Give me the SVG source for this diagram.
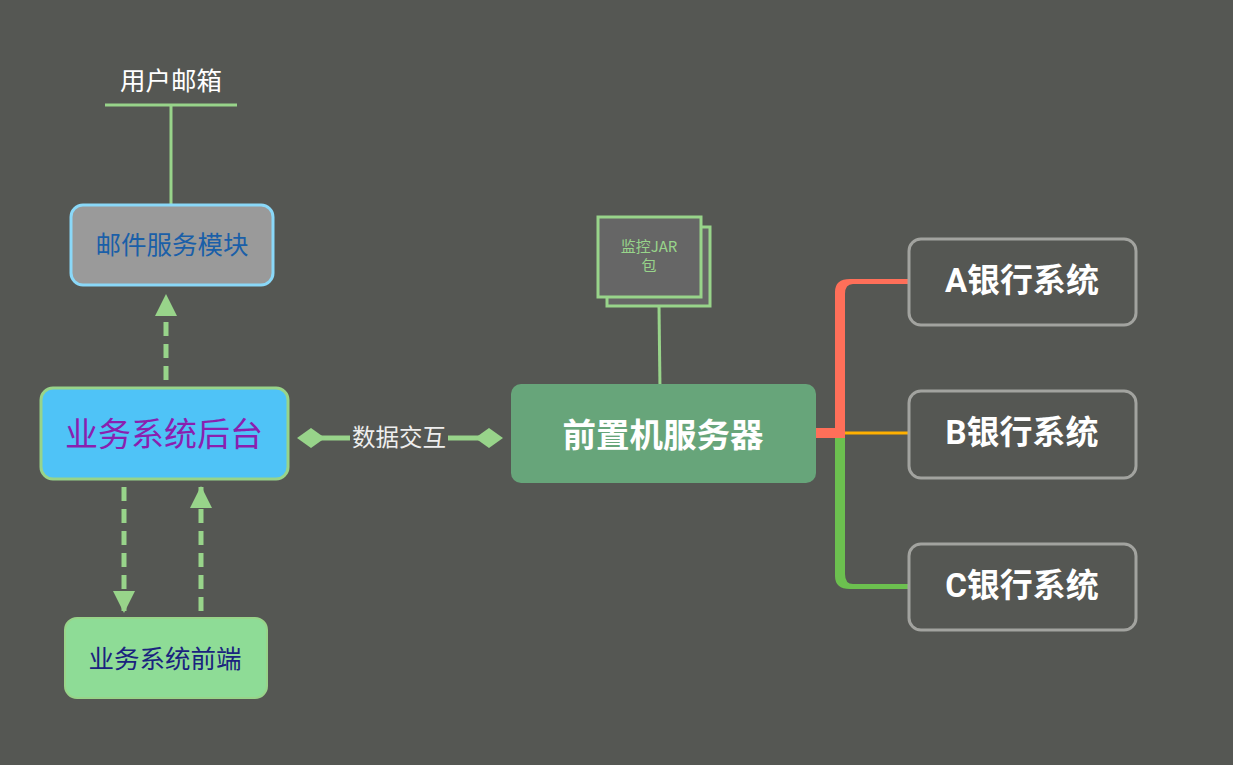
<svg xmlns="http://www.w3.org/2000/svg" width="1233" height="765" viewBox="0 0 1233 765">
<defs>
<style>
.t{font-family:"Noto Sans CJK SC","Noto Sans",sans-serif;text-anchor:middle;dominant-baseline:central}
.g{stroke:#98d48a;fill:none}
.bank rect{fill:none;stroke:#a2a39f;stroke-width:3}
.bank text{font-family:Roboto,"Noto Sans CJK SC",sans-serif;font-weight:bold;font-size:33px;fill:#ffffff;text-anchor:middle;dominant-baseline:central}
</style>
<marker id="ah" viewBox="0 0 10 10" refX="10" refY="5" markerWidth="4.4" markerHeight="4.4" orient="auto" markerUnits="strokeWidth">
<path d="M0,0 L10,5 L0,10 Z" fill="#98d48a"/>
</marker>
</defs>
<rect width="1233" height="765" fill="#555753"/>

<g id="connectors">
<line class="g" x1="105" y1="105" x2="237" y2="105" stroke-width="3"/>
<line class="g" x1="171" y1="105" x2="171" y2="205" stroke-width="3"/>
<line class="g" x1="166" y1="380" x2="166" y2="294" stroke-width="5" stroke-dasharray="14,8" marker-end="url(#ah)"/>
<line class="g" x1="124" y1="487" x2="124" y2="613" stroke-width="5" stroke-dasharray="14,8" marker-end="url(#ah)"/>
<line class="g" x1="201" y1="611" x2="201" y2="486" stroke-width="5" stroke-dasharray="14,8" marker-end="url(#ah)"/>
<line class="g" x1="311" y1="438" x2="350" y2="438" stroke-width="5"/>
<line class="g" x1="448" y1="438" x2="489" y2="438" stroke-width="5"/>
<path d="M297,438 L311,428 L325,438 L311,448 Z" fill="#98d48a"/>
<path d="M475,438 L489,428 L503,438 L489,448 Z" fill="#98d48a"/>
<text class="t" x="399" y="436" font-size="23.5" fill="#eeeeee">数据交互</text>
<line class="g" x1="659" y1="306" x2="660" y2="390" stroke-width="3"/>
<rect x="816" y="428" width="29" height="10" fill="#ff6f59"/>
<path d="M835,438 L835,292 Q835,279 850,279 L908,279 L908,284 L853,284 Q845,284 845,294 L845,438 Z" fill="#ff6f59"/>
<path d="M835,438 L835,576 Q835,589 850,589 L908,589 L908,584 L853,584 Q845,584 845,574 L845,438 Z" fill="#6cc04f"/>
<line x1="845" y1="433" x2="909" y2="433" stroke="#ffb000" stroke-width="3"/>
</g>

<g id="user-mailbox">
<text class="t" x="171" y="78" font-size="25.5" fill="#ffffff">用户邮箱</text>
</g>

<g id="mail-module">
<rect x="71" y="205" width="202" height="80" rx="12" fill="#9a9a9a" stroke="#8ad8f8" stroke-width="3"/>
<text class="t" x="172" y="242" font-size="25.5" fill="#1a5fa8">邮件服务模块</text>
</g>

<g id="backend">
<rect x="41" y="388" width="247" height="91" rx="12" fill="#4fc3f7" stroke="#98d48a" stroke-width="3"/>
<text class="t" x="164" y="432" font-size="33" fill="#8a1fb0">业务系统后台</text>
</g>

<g id="frontend">
<rect x="65" y="618" width="202" height="80" rx="12" fill="#8edc96" stroke="#98d48a" stroke-width="2"/>
<text class="t" x="165" y="656" font-size="25.5" fill="#1a237e">业务系统前端</text>
</g>

<g id="jar">
<rect x="607" y="227" width="103" height="79" fill="#666666" stroke="#98d48a" stroke-width="3"/>
<rect x="598" y="217" width="103" height="80" fill="#666666" stroke="#98d48a" stroke-width="3"/>
<text class="t" x="649" y="245" font-size="15" fill="#98d48a">监控JAR</text>
<text class="t" x="649" y="264" font-size="15" fill="#98d48a">包</text>
</g>

<g id="front-server">
<rect x="511" y="384" width="305" height="99" rx="10" fill="#67a57a"/>
<text class="t" x="663" y="432" font-size="33.5" font-weight="bold" fill="#ffffff">前置机服务器</text>
</g>

<g id="bank-a" class="bank">
<rect x="909" y="239" width="227" height="86" rx="12"/>
<text x="1022" y="280">A银行系统</text>
</g>
<g id="bank-b" class="bank">
<rect x="909" y="391" width="227" height="87" rx="12"/>
<text x="1022" y="432">B银行系统</text>
</g>
<g id="bank-c" class="bank">
<rect x="909" y="544" width="227" height="86" rx="12"/>
<text x="1022" y="585">C银行系统</text>
</g>
</svg>
